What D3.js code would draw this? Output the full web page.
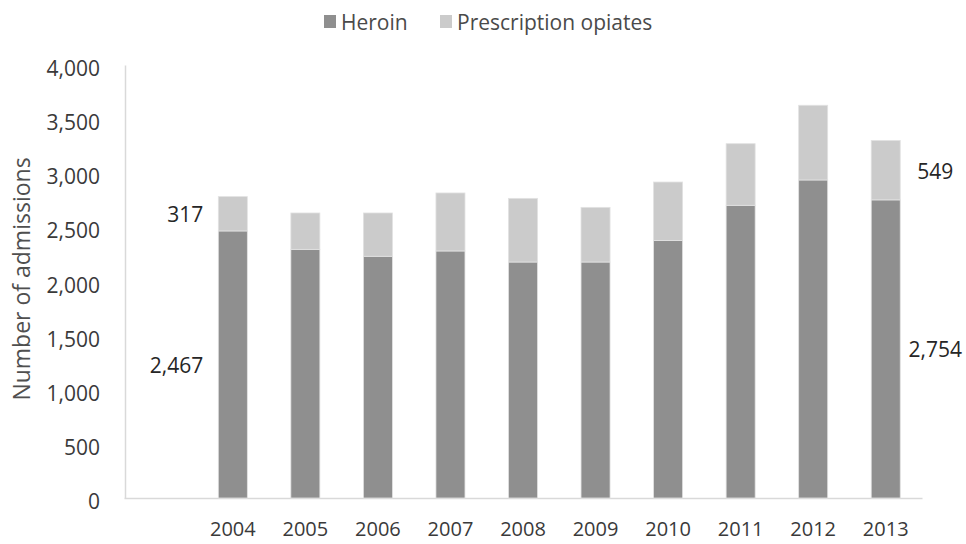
<!DOCTYPE html>
<html><head><meta charset="utf-8">
<script src="https://cdn.jsdelivr.net/npm/d3@7"></script>
<style>body{margin:0;background:#fff;} svg{display:block;}</style>
</head><body>
<svg id="chart" width="966" height="544"></svg>
<script>
const years = ["2004","2005","2006","2007","2008","2009","2010","2011","2012","2013"];
const heroin = [2467, 2297, 2233, 2282, 2180, 2180, 2380, 2704, 2938, 2754];
const prescription = [317, 336, 400, 536, 588, 505, 539, 569, 690, 549];
const yTicks = [0, 500, 1000, 1500, 2000, 2500, 3000, 3500, 4000];
const seriesNames = ["Heroin", "Prescription opiates"];
const colors = ["#8f8f8f", "#cbcbcb"];

const svg = d3.select("#chart");
const font = "'Open Sans', sans-serif";
const textCol = "#3a3a3a";

const x = d3.scaleBand().domain([""].concat(years)).range([124, 922]).paddingInner(0.6).paddingOuter(0.3);
const y = d3.scaleLinear().domain([0, 4000]).range([498, 65]);

const data = years.map((yr, i) => ({year: yr, heroin: heroin[i], rx: prescription[i]}));
const stack = d3.stack().keys(["heroin", "rx"])(data);

// axes
const yAxis = svg.append("g").attr("transform", "translate(125,0)")
  .call(d3.axisLeft(y).tickValues(yTicks).tickSize(0).tickPadding(25).tickFormat(d3.format(",")));
yAxis.select(".domain").attr("stroke", "#d9d9d9").attr("stroke-width", 1.5);
yAxis.selectAll("text").attr("font-family", font).attr("font-size", 21).attr("fill", textCol).attr("dy", "0.5em");

const xAxis = svg.append("g").attr("transform", "translate(0,498)")
  .call(d3.axisBottom(x).tickValues(years).tickSize(0).tickPadding(24));
xAxis.select(".domain").attr("stroke", "#d9d9d9").attr("stroke-width", 1.5);
xAxis.selectAll("text").attr("font-family", font).attr("font-size", 20).attr("fill", textCol);

// bars
svg.append("g").selectAll("g").data(stack).join("g")
  .attr("fill", (d, i) => colors[i])
  .selectAll("rect").data(d => d).join("rect")
  .attr("x", d => x(d.data.year))
  .attr("width", x.bandwidth())
  .attr("y", d => y(d[1]))
  .attr("height", d => y(d[0]) - y(d[1]))
  .attr("stroke", "#e2e2e2").attr("stroke-width", 0.8);

// data labels
const labelsG = svg.append("g").attr("font-family", font).attr("font-size", 21).attr("fill", "#262626");
const first = stack.map(s => s[0]);
const last = stack.map(s => s[s.length - 1]);
first.forEach(d => {
  labelsG.append("text").attr("x", x(d.data.year) - 15).attr("y", (y(d[0]) + y(d[1])) / 2)
    .attr("dy", "0.4em").attr("text-anchor", "end").text(d3.format(",")(d[1] - d[0]));
});
last.forEach(d => {
  labelsG.append("text").attr("x", x(d.data.year) + x.bandwidth() + 35).attr("y", (y(d[0]) + y(d[1])) / 2)
    .attr("dy", "0.4em").attr("text-anchor", "middle").text(d3.format(",")(d[1] - d[0]));
});

// y title
svg.append("text").attr("transform", "translate(22,279) rotate(-90)")
  .attr("text-anchor", "middle").attr("dy", "0.35em")
  .attr("font-family", font).attr("font-size", 23).attr("fill", "#4f4f4f")
  .text("Number of admissions");

// legend
const legendX = [324, 440];
const lg = svg.append("g");
seriesNames.forEach((n, i) => {
  lg.append("rect").attr("x", legendX[i]).attr("y", 15).attr("width", 12).attr("height", 13).attr("fill", colors[i]);
  lg.append("text").attr("x", legendX[i] + 17).attr("y", 22).attr("dy", "0.38em")
    .attr("font-family", font).attr("font-size", 21).attr("fill", "#4a4a4a").text(n);
});
</script>
</body></html>
